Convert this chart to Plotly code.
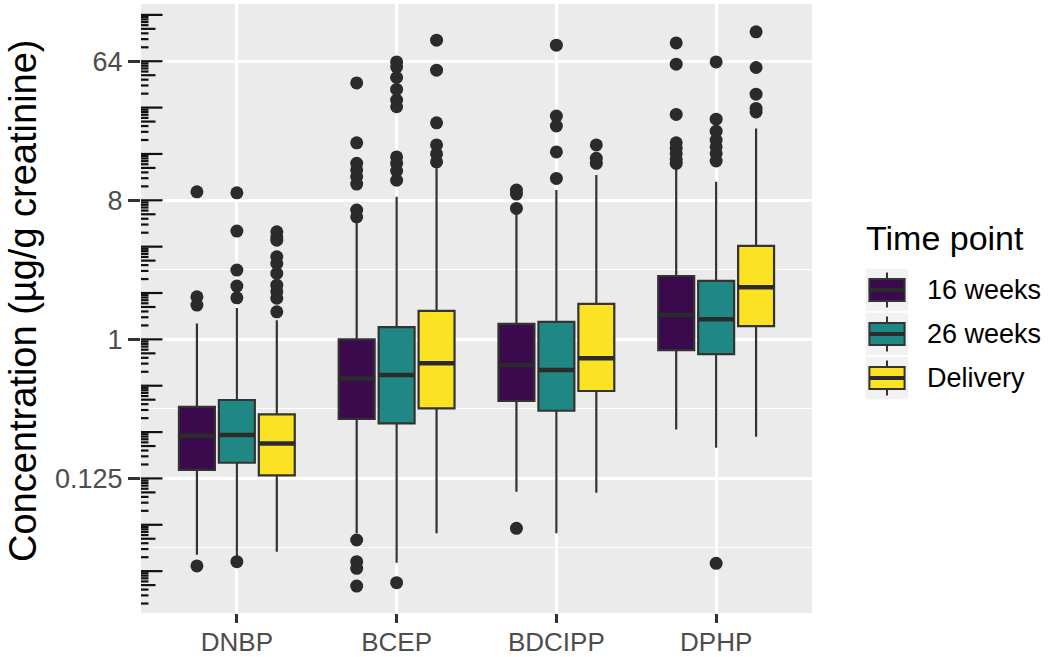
import numpy as np
import plotly.graph_objects as go

compounds = ["DNBP", "BCEP", "BDCIPP", "DPHP"]
groups = ["16 weeks", "26 weeks", "Delivery"]
colors = ["#3a0a4c", "#1f8884", "#fbe323"]

# Box statistics (µg/g creatinine), one value per compound
w16_q1 = [0.142, 0.304, 0.398, 0.852]
w16_med = [0.237, 0.558, 0.681, 1.44]
w16_q3 = [0.365, 1.00, 1.26, 2.58]
w16_lo = [0.0399, 0.0550, 0.1025, 0.260]
w16_hi = [1.27, 5.95, 6.58, 12.9]
w16_out = [[9.08, 1.89, 1.67, 0.0338],
           [46.3, 18.9, 13.9, 12.6, 11.4, 10.2, 6.91, 6.25, 0.0498, 0.0360, 0.0326, 0.0250],
           [9.32, 8.78, 7.09, 0.0593],
           [84.2, 61.3, 28.9, 18.9, 17.4, 16.1, 14.7, 13.9]]

w26_q1 = [0.158, 0.285, 0.344, 0.803]
w26_med = [0.239, 0.586, 0.632, 1.35]
w26_q3 = [0.404, 1.20, 1.30, 2.40]
w26_lo = [0.0388, 0.0354, 0.0550, 0.198]
w26_hi = [1.60, 8.43, 9.32, 10.55]
w26_out = [[8.95, 5.05, 2.82, 2.22, 1.86, 0.0360],
           [63.4, 58.9, 50.2, 42.0, 35.8, 32.4, 15.3, 13.9, 12.4, 10.8, 0.0263],
           [81.4, 28.2, 24.3, 16.5, 11.1],
           [63.4, 26.9, 22.5, 19.7, 17.8, 16.1, 14.4, 0.0351]]

del_q1 = [0.131, 0.356, 0.462, 1.22]
del_med = [0.211, 0.699, 0.753, 2.18]
del_q3 = [0.326, 1.53, 1.70, 4.05]
del_lo = [0.0418, 0.0550, 0.101, 0.233]
del_hi = [1.33, 12.9, 11.66, 23.4]
del_out = [[4.99, 4.64, 4.41, 3.44, 3.11, 2.68, 2.25, 2.04, 1.85, 1.51],
           [87.7, 56.0, 25.5, 18.3, 16.0, 14.2],
           [18.3, 15.0, 13.9],
           [99.3, 58.3, 39.1, 31.6, 30.0]]

y_tick_vals = [0.125, 1, 8, 64]
y_tick_text = ["0.125", "1", "8", "64"]

series = [
    (w16_q1, w16_med, w16_q3, w16_lo, w16_hi, w16_out),
    (w26_q1, w26_med, w26_q3, w26_lo, w26_hi, w26_out),
    (del_q1, del_med, del_q3, del_lo, del_hi, del_out),
]

FONT = "Liberation Sans, Arial, Helvetica, sans-serif"
W, H = 1050, 657
ML, MR, MT, MB = 141, 238, 4, 44
PW, PH = W - ML - MR, H - MT - MB

offsets = [-0.25, 0.0, 0.25]
box_w = 0.225
xpos = np.arange(1, len(compounds) + 1)

fig = go.Figure()
for gi, (q1, med, q3, lo, hi, out) in enumerate(series):
    x = xpos + offsets[gi]
    fig.add_trace(go.Box(
        x=x, q1=np.log2(q1), median=np.log2(med), q3=np.log2(q3),
        lowerfence=np.log2(lo), upperfence=np.log2(hi),
        width=box_w, boxpoints=False, whiskerwidth=0,
        fillcolor=colors[gi], line=dict(color="#333333", width=2.2),
        name=groups[gi], showlegend=False,
    ))
    # thicker median line (ggplot fatten)
    mx, my = [], []
    for xi, m in zip(x, med):
        mx += [xi - box_w / 2, xi + box_w / 2, None]
        my += [np.log2(m), np.log2(m), None]
    fig.add_trace(go.Scatter(x=mx, y=my, mode="lines",
                             line=dict(color="#2b2b2b", width=4.5),
                             showlegend=False, hoverinfo="skip"))
    ox, oy = [], []
    for xi, vals in zip(x, out):
        ox += [xi] * len(vals)
        oy += list(np.log2(vals))
    fig.add_trace(go.Scatter(x=ox, y=oy, mode="markers",
                             marker=dict(color="#2b2b2b", size=13),
                             showlegend=False))

y_range = [-5.903, 7.235]

shapes = []
# log ticks (annotation_logticks style) along left edge
long_len, mid_len, short_len = 21.5, 14.5, 7.5
for n in range(int(np.floor(y_range[0])) - 1, int(np.ceil(y_range[1])) + 1):
    for k in range(1, 10):
        yv = n + np.log10(k)
        if yv < y_range[0] or yv > y_range[1]:
            continue
        ln = long_len if k == 1 else (mid_len if k == 5 else short_len)
        shapes.append(dict(type="line", xref="x domain", yref="y",
                           x0=0, x1=ln / PW, y0=yv, y1=yv,
                           line=dict(color="#111111", width=2.2), layer="above"))

def px(xp):
    return (xp - ML) / PW

def py(yp):
    return (H - MB - yp) / PH

annotations = []
# custom ggplot-like legend
key_x0, key_size = 865, 44
key_c0 = 290
for gi, g in enumerate(groups):
    cy = key_c0 + gi * key_size
    top = cy - key_size / 2
    shapes.append(dict(type="rect", xref="paper", yref="paper",
                       x0=px(key_x0), x1=px(key_x0 + key_size),
                       y0=py(top + key_size), y1=py(top),
                       fillcolor="#f2f2f2", line=dict(color="white", width=1.5)))
    xc = key_x0 + key_size / 2
    shapes.append(dict(type="line", xref="paper", yref="paper",
                       x0=px(xc), x1=px(xc), y0=py(top + 0.1 * key_size), y1=py(top + 0.9 * key_size),
                       line=dict(color="#333333", width=2)))
    shapes.append(dict(type="rect", xref="paper", yref="paper",
                       x0=px(key_x0 + 0.1 * key_size), x1=px(key_x0 + 0.9 * key_size),
                       y0=py(top + 0.75 * key_size), y1=py(top + 0.25 * key_size),
                       fillcolor=colors[gi], line=dict(color="#333333", width=2)))
    shapes.append(dict(type="line", xref="paper", yref="paper",
                       x0=px(key_x0 + 0.1 * key_size), x1=px(key_x0 + 0.9 * key_size),
                       y0=py(cy), y1=py(cy),
                       line=dict(color="#2b2b2b", width=4)))
    annotations.append(dict(text=g, xref="paper", yref="paper", x=px(925), y=py(cy),
                            xanchor="left", yanchor="middle", showarrow=False,
                            font=dict(family=FONT, size=27, color="black")))
annotations.append(dict(text="Time point", xref="paper", yref="paper", x=px(864), y=py(238),
                        xanchor="left", yanchor="middle", showarrow=False,
                        font=dict(family=FONT, size=34, color="black")))
# y-axis title
annotations.append(dict(text="Concentration (µg/g creatinine)", xref="paper", yref="paper",
                        x=px(23), y=py(301), textangle=-90, xanchor="center", yanchor="middle",
                        showarrow=False, font=dict(family=FONT, size=38, color="black")))

fig.update_layout(
    width=W, height=H,
    margin=dict(l=ML, r=MR, t=MT, b=MB, autoexpand=False),
    paper_bgcolor="white", plot_bgcolor="#ebebeb",
    font=dict(family=FONT),
    shapes=shapes, annotations=annotations, showlegend=False,
    xaxis=dict(range=[0.4, 4.6], tickvals=list(xpos), ticktext=compounds,
               showgrid=True, gridcolor="white", gridwidth=2.5, zeroline=False,
               ticks="outside", ticklen=9, tickwidth=2.5, tickcolor="#333333",
               tickfont=dict(family=FONT, size=26, color="#4d4d4d"),
               ticklabelstandoff=-3, automargin=False,
               showline=False),
    yaxis=dict(range=y_range, tickvals=list(np.log2(y_tick_vals)), ticktext=y_tick_text,
               showgrid=True, gridcolor="white", gridwidth=2.5, zeroline=False,
               ticks="outside", ticklen=12, tickwidth=2.5, tickcolor="#333333",
               tickfont=dict(family=FONT, size=27, color="#4d4d4d"),
               minor=dict(tickvals=list(np.log2(y_tick_vals[0]) + 1.5 * np.arange(-1, 5)),
                          showgrid=True, gridcolor="white", gridwidth=1.2, ticks=""),
               automargin=False, showline=False),
)

fig.write_html("out.html", config={"displayModeBar": False},
               post_script="document.body.style.margin='0px';document.body.style.overflow='hidden';")
